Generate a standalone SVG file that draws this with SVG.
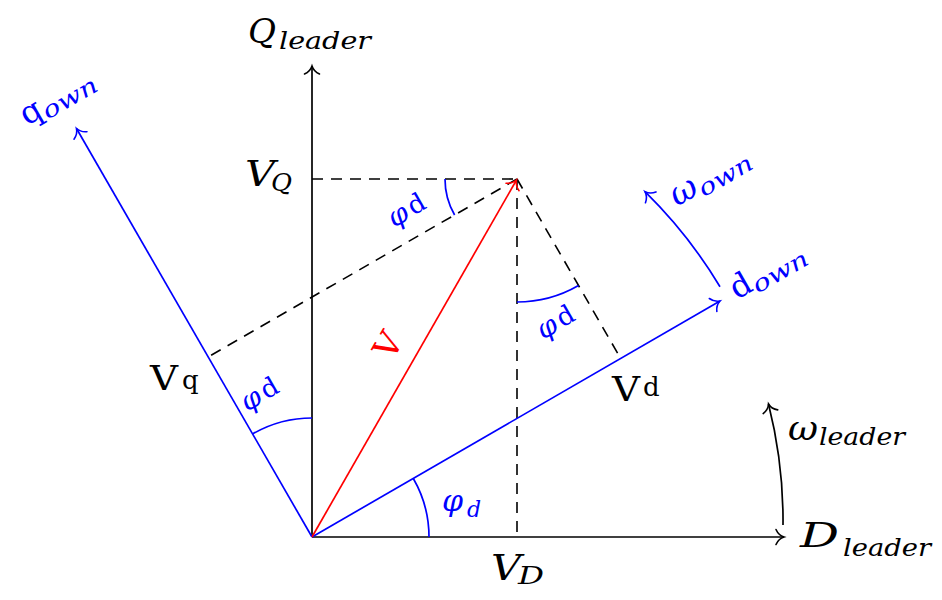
<svg xmlns="http://www.w3.org/2000/svg" width="942" height="600" viewBox="0 0 942 600" font-family="'DejaVu Serif', serif">
<style>
.ax{fill:none;stroke:#000;stroke-width:1.7}
.bl{fill:none;stroke:#0000ff;stroke-width:1.7}
.rd{fill:none;stroke:#ff0000;stroke-width:1.7}
.ds{fill:none;stroke:#000;stroke-width:1.6;stroke-dasharray:11 8}
.it{font-style:italic}
.k{fill:#000}
.b{fill:#0000ff}
.r{fill:#ff0000}
</style>
<defs>
<marker id="ak" markerUnits="userSpaceOnUse" markerWidth="24" markerHeight="24" viewBox="-12 -12 24 24" refX="0" refY="0" orient="auto" overflow="visible">
<path d="M-8,-7.5 C-6,-3 -2.5,-0.8 0,0 C-2.5,0.8 -6,3 -8,7.5" fill="none" stroke="#000" stroke-width="1.6" stroke-linecap="round"/>
</marker>
<marker id="ab" markerUnits="userSpaceOnUse" markerWidth="24" markerHeight="24" viewBox="-12 -12 24 24" refX="0" refY="0" orient="auto" overflow="visible">
<path d="M-8,-7.5 C-6,-3 -2.5,-0.8 0,0 C-2.5,0.8 -6,3 -8,7.5" fill="none" stroke="#0000ff" stroke-width="1.6" stroke-linecap="round"/>
</marker>
<marker id="ar" markerUnits="userSpaceOnUse" markerWidth="24" markerHeight="24" viewBox="-12 -12 24 24" refX="0" refY="0" orient="auto" overflow="visible">
<path d="M-8,-7.5 C-6,-3 -2.5,-0.8 0,0 C-2.5,0.8 -6,3 -8,7.5" fill="none" stroke="#ff0000" stroke-width="1.6" stroke-linecap="round"/>
</marker>
</defs>

<g id="connectors">
<line class="ds" x1="312" y1="179" x2="517" y2="179"/>
<line class="ds" x1="517" y1="179" x2="517" y2="537"/>
<line class="ds" x1="517" y1="179" x2="621" y2="359"/>
<line class="ds" x1="517" y1="179" x2="208" y2="357"/>
<line class="ax" x1="312" y1="537" x2="784" y2="537" marker-end="url(#ak)"/>
<line class="ax" x1="312" y1="537" x2="312" y2="66" marker-end="url(#ak)"/>
<line class="bl" x1="312" y1="537" x2="720" y2="301" marker-end="url(#ab)"/>
<line class="bl" x1="312" y1="537" x2="76.5" y2="128.5" marker-end="url(#ab)"/>
<line class="rd" x1="312" y1="537" x2="516.5" y2="180" marker-end="url(#ar)"/>
<path class="bl" d="M720,286.7 A479,479 0 0 0 645,191.7" marker-end="url(#ab)"/>
<path class="ax" d="M783,525 A473,473 0 0 0 768.5,404" marker-end="url(#ak)"/>
<path class="bl" d="M429,537 A117,117 0 0 0 413.3,478.5"/>
<path class="bl" d="M312,418 A119,119 0 0 0 252.5,434"/>
<path class="bl" d="M445,179 A72,72 0 0 0 454.6,215"/>
<path class="bl" d="M517,302 A123,123 0 0 0 578.5,285.5"/>
</g>

<g id="Q_leader">
<text class="it k" x="248" y="43" font-size="34" textLength="28" lengthAdjust="spacingAndGlyphs">Q</text>
<text class="it k" x="279" y="49" font-size="24" textLength="92" lengthAdjust="spacingAndGlyphs">leader</text>
</g>
<g id="D_leader">
<text class="it k" x="800" y="547" font-size="34" textLength="39" lengthAdjust="spacingAndGlyphs">D</text>
<text class="it k" x="843" y="556" font-size="24" textLength="88" lengthAdjust="spacingAndGlyphs">leader</text>
</g>
<g id="omega_leader">
<text class="it k" x="788" y="440" font-size="34" textLength="30" lengthAdjust="spacingAndGlyphs">ω</text>
<text class="it k" x="819" y="445" font-size="24" textLength="86" lengthAdjust="spacingAndGlyphs">leader</text>
</g>
<g id="q_own" transform="translate(27,126) rotate(-30)">
<text class="b" x="0" y="0" font-size="32">q</text>
<text class="it b" x="21" y="5" font-size="23" textLength="60" lengthAdjust="spacingAndGlyphs">own</text>
</g>
<g id="d_own" transform="translate(737,300) rotate(-30)">
<text class="b" x="0" y="0" font-size="32">d</text>
<text class="it b" x="21" y="5" font-size="23" textLength="61" lengthAdjust="spacingAndGlyphs">own</text>
</g>
<g id="omega_own" transform="translate(677,207) rotate(-30)">
<text class="it b" x="0" y="0" font-size="34" textLength="27" lengthAdjust="spacingAndGlyphs">ω</text>
<text class="it b" x="28" y="5" font-size="23" textLength="59" lengthAdjust="spacingAndGlyphs">own</text>
</g>
<g id="V_Q">
<text class="it k" x="245" y="186" font-size="36" textLength="30" lengthAdjust="spacingAndGlyphs">V</text>
<text class="it k" x="271" y="191" font-size="24" textLength="21" lengthAdjust="spacingAndGlyphs">Q</text>
</g>
<g id="V_D">
<text class="it k" x="491" y="580" font-size="36" textLength="30" lengthAdjust="spacingAndGlyphs">V</text>
<text class="it k" x="518" y="584" font-size="24" textLength="26" lengthAdjust="spacingAndGlyphs">D</text>
</g>
<g id="V_q">
<text class="k" x="150" y="390" font-size="34" textLength="28" lengthAdjust="spacingAndGlyphs">V</text>
<text class="k" x="182" y="389" font-size="26">q</text>
</g>
<g id="V_d">
<text class="k" x="612" y="401" font-size="34" textLength="28" lengthAdjust="spacingAndGlyphs">V</text>
<text class="k" x="643" y="396" font-size="26">d</text>
</g>
<g id="V">
<text class="r" transform="translate(388,345) rotate(-60)" x="0" y="12" font-size="34" text-anchor="middle">V</text>
</g>
<g id="phi_tip_left" transform="translate(394,228) rotate(-30)">
<text class="it b" x="0" y="0" font-size="28">φ</text>
<text class="b" x="23" y="-1" font-size="26">d</text>
</g>
<g id="phi_tip_right" transform="translate(543,340) rotate(-30)">
<text class="it b" x="0" y="0" font-size="28">φ</text>
<text class="b" x="23" y="-1" font-size="26">d</text>
</g>
<g id="phi_q" transform="translate(247,412) rotate(-30)">
<text class="it b" x="0" y="0" font-size="28">φ</text>
<text class="b" x="23" y="-1" font-size="26">d</text>
</g>
<g id="phi_d">
<text class="it b" x="442" y="511" font-size="30">φ</text>
<text class="it b" x="467" y="517" font-size="22">d</text>
</g>
</svg>
